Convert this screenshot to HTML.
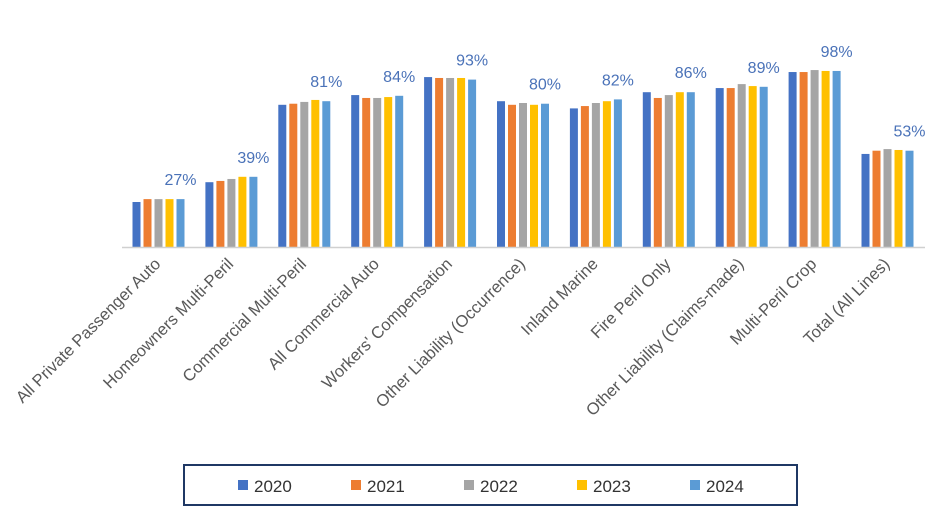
<!DOCTYPE html>
<html><head><meta charset="utf-8"><style>
body{margin:0;background:#fff;}
svg{display:block;font-family:"Liberation Sans",sans-serif;}
</style></head><body>
<svg id="chart" width="947" height="531" xmlns="http://www.w3.org/2000/svg">
<g id="bars"></g>
<g id="labels"></g>
<g id="xlabels"></g>
<line x1="122" y1="247.5" x2="925" y2="247.5" stroke="#d0d0d0" stroke-width="1.5"/>
<rect x="184" y="465" width="613" height="40" fill="none" stroke="#1f3864" stroke-width="2"/>
<g id="legend"></g>
</svg>
<script>
const categories = ["All Private Passenger Auto","Homeowners Multi-Peril","Commercial Multi-Peril","All Commercial Auto","Workers' Compensation","Other Liability (Occurrence)","Inland Marine","Fire Peril Only","Other Liability (Claims-made)","Multi-Peril Crop","Total (All Lines)"];
const years = ["2020","2021","2022","2023","2024"];
const s2020 = [25,36,79,84.4,94.4,81,77,86,88.3,97.2,51.7];
const s2021 = [26.6,36.7,79.6,82.8,93.9,79,78.3,82.8,88.3,97.2,53.5];
const s2022 = [26.6,37.8,80.6,82.8,93.9,80,80,84.4,90.5,98.3,54.4];
const s2023 = [26.6,39,81.7,83.3,93.9,79,81,86,89.4,97.8,53.9];
const s2024 = [26.6,39,81,84,93,79.6,82,86,89,97.8,53.5];
const labelValues = ["27%","39%","81%","84%","93%","80%","82%","86%","89%","98%","53%"];
const series = [s2020,s2021,s2022,s2023,s2024];
const colors = ["#4472c4","#ed7d31","#a5a5a5","#ffc000","#5b9bd5"];
const NS = "http://www.w3.org/2000/svg";
const baseY = 247, pxPer = 1.8;
function yScale(v){ return baseY - v*pxPer; }
function xCenter(i){ return 158.5 + i*72.9; }
const bw = 8, step = 11;
const gB = document.getElementById('bars'), gL = document.getElementById('labels'), gX = document.getElementById('xlabels'), gLeg = document.getElementById('legend');
categories.forEach((c,i)=>{
  series.forEach((s,j)=>{
    const r = document.createElementNS(NS,'rect');
    const x = xCenter(i) - 2.5*step + j*step + 1.5;
    r.setAttribute('x', x); r.setAttribute('y', yScale(s[i]));
    r.setAttribute('width', bw); r.setAttribute('height', baseY - yScale(s[i]));
    r.setAttribute('fill', colors[j]);
    
    
    gB.appendChild(r);
  });
  const t = document.createElementNS(NS,'text');
  t.setAttribute('x', xCenter(i) + 22);
  t.setAttribute('y', yScale(s2024[i]) - 14);
  t.setAttribute('text-anchor','middle'); t.setAttribute('font-size','16'); t.setAttribute('fill','#4a72b8');
  t.textContent = labelValues[i];
  
  
  gL.appendChild(t);
  const xl = document.createElementNS(NS,'text');
  const cx = xCenter(i)+3, cy = 265;
  xl.setAttribute('x', cx); xl.setAttribute('y', cy);
  xl.setAttribute('text-anchor','end'); xl.setAttribute('font-size','16.6'); xl.setAttribute('fill','#595959');
  xl.setAttribute('transform','rotate(-45 '+cx+' '+cy+')');
  xl.textContent = c;
  
  
  gX.appendChild(xl);
});
years.forEach((y,j)=>{
  const lx = 238 + j*113;
  const r = document.createElementNS(NS,'rect');
  r.setAttribute('x', lx); r.setAttribute('y', 480); r.setAttribute('width', 10); r.setAttribute('height', 10);
  r.setAttribute('fill', colors[j]);
  
  
  gLeg.appendChild(r);
  const t = document.createElementNS(NS,'text');
  t.setAttribute('x', lx+16); t.setAttribute('y', 492); t.setAttribute('font-size','17'); t.setAttribute('fill','#333');
  t.textContent = y;
  
  
  gLeg.appendChild(t);
});
</script>
</body></html>
